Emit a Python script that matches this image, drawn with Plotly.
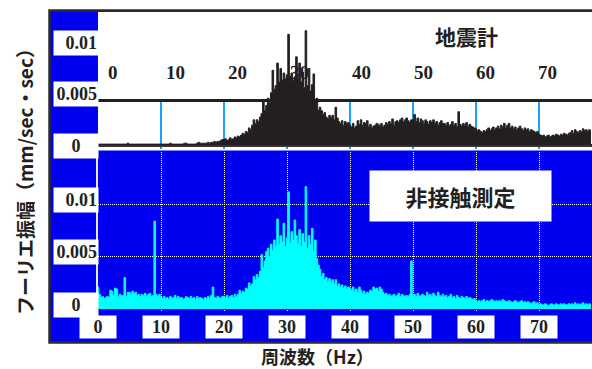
import numpy as np
import plotly.graph_objects as go

# Fourier amplitude spectra, 0.25 Hz bins from 0 Hz, values in units of 1e-4 mm/sec/sec
BIN_HZ = 0.25

seismometer = [
    1, 1, 1, 1, 1, 1, 1, 1, 1, 1, 1, 1, 1, 1, 1, 1, 1, 1, 1, 2,
    1, 1, 1, 1, 1, 1, 1, 1, 1, 1, 1, 1, 1, 1, 1, 1, 1, 1, 1, 1,
    1, 1, 1, 1, 1, 1, 2, 1, 1, 1, 1, 1, 1, 1, 1, 2, 2, 1, 1, 1,
    1, 1, 1, 2, 3, 2, 2, 2, 2, 2, 3, 2, 3, 3, 4, 3, 4, 4, 5, 6,
    6, 7, 5, 6, 8, 6, 7, 9, 8, 10, 9, 11, 13, 12, 15, 14, 19, 17, 22, 28,
    24, 28, 26, 31, 35, 50, 38, 44, 52, 47, 58, 83, 62, 66, 91, 70, 85, 72, 80, 74,
    78, 123, 76, 80, 72, 76, 98, 74, 91, 70, 81, 64, 127, 66, 85, 60, 67, 79, 50, 52,
    39, 42, 38, 34, 36, 31, 29, 33, 30, 33, 28, 42, 30, 26, 24, 27, 22, 26, 24, 25,
    22, 20, 24, 19, 21, 27, 23, 28, 22, 25, 24, 27, 20, 23, 19, 21, 22, 24, 23, 21,
    24, 20, 22, 25, 23, 26, 24, 29, 22, 26, 27, 25, 28, 30, 26, 28, 30, 27, 25, 28,
    28, 34, 26, 30, 25, 29, 27, 24, 28, 26, 23, 27, 25, 28, 24, 26, 22, 25, 27, 24,
    24, 22, 25, 21, 23, 26, 22, 24, 20, 37, 23, 21, 24, 22, 25, 20, 23, 21, 20, 19,
    18, 16, 17, 15, 14, 16, 15, 17, 19, 16, 18, 20, 17, 19, 21, 18, 22, 20, 24, 19,
    22, 24, 19, 21, 18, 20, 17, 19, 21, 18, 16, 19, 17, 18, 15, 17, 16, 15, 14, 15,
    12, 11, 10, 11, 9, 10, 11, 9, 10, 11, 10, 12, 11, 10, 12, 11, 13, 12, 11, 13,
    14, 16, 13, 17, 15, 14, 16, 15, 18, 16, 17, 15, 17, 16,
]

non_contact = [
    21, 14, 11, 12, 10, 11, 12, 11, 18, 17, 13, 20, 19, 12, 14, 13, 13, 30, 12, 16,
    16, 14, 17, 15, 16, 13, 14, 12, 14, 13, 15, 12, 14, 15, 12, 13, 84, 14, 12, 14,
    11, 10, 12, 10, 11, 9, 12, 10, 11, 13, 10, 12, 10, 11, 9, 10, 12, 11, 10, 12,
    10, 11, 9, 12, 10, 11, 10, 9, 11, 10, 12, 10, 13, 21, 11, 10, 12, 11, 10, 12,
    12, 11, 13, 10, 12, 13, 11, 14, 12, 14, 18, 15, 17, 16, 20, 19, 25, 22, 24, 31,
    28, 33, 30, 36, 52, 40, 46, 55, 58, 50, 62, 56, 66, 60, 86, 62, 70, 64, 82, 60,
    68, 112, 63, 74, 66, 85, 70, 62, 76, 60, 72, 64, 117, 58, 70, 62, 77, 55, 66, 48,
    42, 38, 31, 34, 28, 30, 26, 29, 25, 28, 24, 28, 22, 24, 21, 23, 20, 22, 19, 21,
    20, 18, 21, 17, 19, 16, 21, 18, 15, 17, 14, 16, 15, 18, 17, 21, 19, 20, 17, 21,
    19, 16, 14, 15, 13, 14, 12, 13, 14, 12, 13, 15, 12, 14, 13, 12, 13, 12, 14, 46,
    13, 14, 12, 15, 13, 12, 14, 13, 12, 16, 13, 14, 12, 15, 13, 12, 16, 13, 12, 14,
    12, 13, 11, 12, 14, 11, 12, 10, 13, 11, 10, 12, 11, 10, 12, 10, 11, 10, 9, 10,
    8, 7, 8, 7, 8, 9, 7, 8, 7, 8, 9, 8, 7, 8, 7, 8, 7, 9, 8, 7,
    7, 8, 7, 6, 7, 8, 7, 6, 7, 8, 6, 7, 6, 7, 6, 5, 6, 7, 5, 6,
    4, 5, 4, 4, 5, 4, 3, 4, 5, 4, 4, 5, 4, 4, 5, 4, 5, 4, 4, 5,
    4, 5, 4, 6, 4, 5, 4, 5, 6, 4, 5, 4, 5, 4,
]

freq_ticks = [0, 10, 20, 30, 40, 50, 60, 70]
freq_labels = ["0", "10", "20", "30", "40", "50", "60", "70"]
amp_ticks = [0, 0.005, 0.01]
amp_labels = ["0", "0.005", "0.01"]

UNIT = 1e-4
freq = np.arange(len(seismometer)) * BIN_HZ
seis = np.array(seismometer) * UNIT
nonc = np.array(non_contact) * UNIT

W, H = 592, 369
BLUE = "#0000f0"
DARK = "#231f20"
SKY = "#1ea0ff"
SERIF = "Times New Roman"
CJK = "Noto Sans CJK JP"


def px(x):
    return x / W


def py(y):
    return 1 - y / H


X_MAX = 78.41

fig = go.Figure()
fig.add_trace(go.Scatter(
    x=freq, y=seis, mode="lines", line=dict(color=DARK, width=1, shape="hvh"),
    fill="tozeroy", fillcolor=DARK, xaxis="x", yaxis="y", hoverinfo="skip",
))
fig.add_trace(go.Scatter(
    x=freq, y=nonc, mode="lines", line=dict(color="#00ffff", width=1, shape="hvh"),
    fill="tozeroy", fillcolor="#00ffff", xaxis="x2", yaxis="y2", hoverinfo="skip",
))

shapes = [
    # blue board with dark frame
    dict(type="rect", xref="paper", yref="paper", x0=px(49.5), x1=1.05,
         y0=py(342.5), y1=py(10.5), fillcolor=BLUE,
         line=dict(color="#2b2b2b", width=2.5), layer="below"),
    # white field of the seismometer panel
    dict(type="rect", xref="paper", yref="paper", x0=px(98), x1=1.05,
         y0=py(150.5), y1=py(12), fillcolor="white", line=dict(width=0), layer="below"),
]
# blue frequency markers in the seismometer panel
for t in freq_ticks[1:]:
    shapes.append(dict(type="line", xref="x", yref="y", x0=t, x1=t,
                       y0=-0.0006, y1=0.005, line=dict(color=SKY, width=2), layer="below"))

CENTER = dict(xanchor="center", yanchor="middle", showarrow=False)

annotations = []
# frequency labels inside the seismometer panel
for t, lab in zip(freq_ticks, freq_labels):
    annotations.append(dict(
        x=t, xref="x", y=py(73), yref="paper", text=lab,
        xshift=15 - 0.1 * t,
        font=dict(family=SERIF, size=19, color=DARK, weight="bold"), **CENTER,
    ))
# boxed frequency labels under the non-contact panel
for t, lab in zip(freq_ticks, freq_labels):
    annotations.append(dict(
        x=t, xref="x2", y=py(327), yref="paper", text=lab,
        width=36, height=22, borderpad=0, bgcolor="white",
        font=dict(family=SERIF, size=18, color=DARK, weight="bold"), **CENTER,
    ))
# boxed amplitude labels on the left strip
top_shift = {0: -1, 0.005: 5.5, 0.01: 12}
bot_shift = {0: 4, 0.005: 4.5, 0.01: 4.5}
for axis, shift in (("y", top_shift), ("y2", bot_shift)):
    for v, lab in zip(amp_ticks, amp_labels):
        annotations.append(dict(
            x=px(76), xref="paper", y=v, yref=axis, yshift=shift[v],
            text=lab, width=42, height=22, borderpad=1,
            bgcolor="white", align="center" if lab == "0" else "right",
            font=dict(family=SERIF, size=18, color=DARK, weight="bold"), **CENTER,
        ))

annotations += [
    dict(x=px(466), y=py(36), xref="paper", yref="paper", text="<b>地震計</b>",
         font=dict(family=CJK, size=21, color=DARK), **CENTER),
    dict(x=px(460.5), y=py(196), xref="paper", yref="paper", text="<b>非接触測定</b>",
         width=181, height=50, borderpad=0, bgcolor="white",
         font=dict(family=CJK, size=22, color=DARK), **CENTER),
    dict(x=px(317), y=py(355.5), xref="paper", yref="paper", text="<b>周波数（Hz）</b>",
         font=dict(family=CJK, size=18, color=DARK), **CENTER),
    dict(x=px(24), y=py(177), xref="paper", yref="paper",
         text="<b>フーリエ振幅（mm/sec・sec）</b>", textangle=-90,
         font=dict(family=CJK, size=19, color=DARK), **CENTER),
]

fig.update_layout(
    width=W, height=H, margin=dict(l=0, r=0, t=0, b=0),
    paper_bgcolor="white", plot_bgcolor="rgba(0,0,0,0)", showlegend=False,
    shapes=shapes, annotations=annotations,
    xaxis=dict(domain=[px(98), 1], range=[0, X_MAX], showgrid=False, zeroline=False,
               showticklabels=False, ticks="", showline=False),
    yaxis=dict(domain=[py(149), py(12)], range=[-0.000444, 0.014778],
               tickvals=[0.005], showticklabels=False, ticks="",
               showgrid=True, gridcolor=DARK, gridwidth=2.5,
               zeroline=True, zerolinecolor="#333333", zerolinewidth=2.5),
    xaxis2=dict(domain=[px(98), 1], range=[0, X_MAX], anchor="y2",
                tickvals=freq_ticks[1:], showticklabels=False, ticks="",
                showgrid=True, gridcolor="white", gridwidth=1, griddash="1px,1px",
                zeroline=False, showline=False),
    yaxis2=dict(domain=[py(312), py(152)], range=[-0.000287, 0.01501], anchor="x2",
                tickvals=[0.005, 0.01, 0.015], showticklabels=False, ticks="",
                showgrid=True, gridcolor="white", gridwidth=1, griddash="1px,1px",
                zeroline=False, showline=True, linecolor="#e8e8ff", linewidth=1.5),
)

fig.write_html("out.html")
